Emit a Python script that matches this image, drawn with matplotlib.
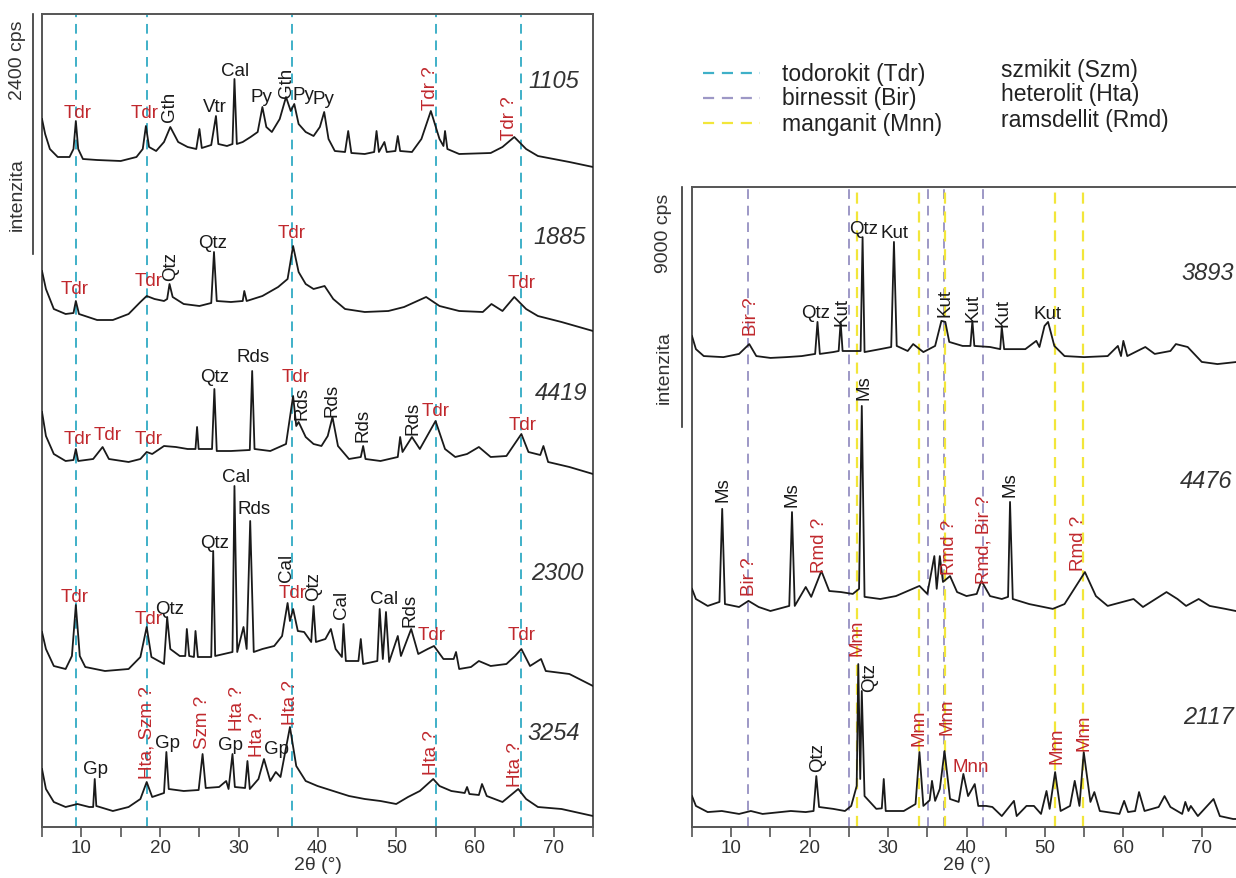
import matplotlib
matplotlib.use("Agg")
import matplotlib.pyplot as plt
from matplotlib.lines import Line2D
from matplotlib.ticker import MultipleLocator

plt.rcParams['font.family'] = ['Liberation Sans', 'DejaVu Sans']

# --- data (stacked intensities, cps) ---
# left panel
tt_1105 = [5.0, 5.4, 6.0, 7.0, 8.5, 9.0, 9.3, 9.6, 10.2, 12, 15, 17, 17.8, 18.2, 18.6, 19.5, 20.5, 21.3, 22.3,
           23.5, 24.6, 25.0, 25.3, 26.5, 27.1, 27.4, 28.5, 29.2, 29.45, 29.75, 30.5, 31.5, 32.4, 33.0, 33.5, 34.2,
           35.2, 36.0, 36.6, 37.05, 37.6, 38.5, 39.5, 40.3, 40.85, 41.4, 42.2, 43.5, 43.9, 44.3, 46, 47.2, 47.5,
           47.8, 48.5, 48.8, 49.9, 50.2, 50.5, 52, 53.2, 54.4, 55.5, 56.0, 56.2, 56.5, 58, 62, 63.5, 65.0, 66.5,
           68, 70, 72, 75]
i_1105 = [7080, 6930, 6780, 6700, 6700, 6780, 7060, 6780, 6680, 6670, 6660, 6700, 6780, 7010, 6800, 6760, 6850,
          7000, 6850, 6800, 6780, 6980, 6790, 6820, 7110, 6830, 6810, 6830, 7480, 6830, 6850, 6900, 6950, 7200,
          7000, 6950, 7080, 7300, 7160, 7230, 7030, 6950, 6910, 7000, 7150, 6880, 6760, 6750, 6960, 6740, 6730,
          6750, 6960, 6750, 6850, 6750, 6760, 6910, 6760, 6750, 6880, 7160, 6880, 6810, 6960, 6780, 6730, 6740,
          6800, 6900, 6780, 6710, 6680, 6650, 6600]

tt_1885 = [5.0, 5.5, 6.5, 8, 9.0, 9.3, 9.7, 12, 14, 16, 17.5, 18.3, 19.3, 20.5, 20.9, 21.2, 21.6, 23, 25, 26.5,
           26.85, 27.2, 29, 30.5, 30.7, 31, 33, 35, 36.2, 36.9, 37.6, 38.5, 39.5, 40.9, 42, 43.5, 46, 49, 51, 53.8,
           55.5, 58, 61, 62.1, 63.5, 65.0, 66.5, 68, 71, 75]
i_1885 = [5560, 5380, 5180, 5130, 5140, 5260, 5130, 5070, 5070, 5130, 5250, 5310, 5280, 5260, 5280, 5430, 5300,
          5230, 5210, 5240, 5750, 5260, 5250, 5260, 5360, 5260, 5310, 5400, 5480, 5810, 5550, 5430, 5380, 5410,
          5280, 5180, 5150, 5160, 5200, 5300, 5210, 5160, 5150, 5230, 5160, 5300, 5180, 5110, 5050, 4960]

tt_4419 = [5.0, 5.5, 6.5, 8, 9.0, 9.3, 9.6, 11.5, 12.7, 13.5, 16, 17.5, 18.3, 19, 20.5, 22, 23.5, 24.5, 24.7, 24.9,
           26.6, 26.9, 27.2, 29, 31.4, 31.7, 32.0, 34, 36, 36.9, 37.3, 37.6, 38.5, 39.5, 40.5, 41.3, 41.9, 42.6,
           44, 45.5, 45.8, 46.1, 48, 50.2, 50.5, 50.8, 52.0, 53, 55.0, 56.2, 57.5, 59, 60.5, 62, 64, 65.9, 66.8,
           68.3, 68.7, 69.3, 72, 75]
i_4419 = [4150, 3910, 3730, 3660, 3670, 3780, 3660, 3680, 3800, 3680, 3650, 3680, 3750, 3730, 3810, 3800, 3780,
          3780, 4000, 3780, 3780, 4380, 3760, 3760, 3770, 4560, 3780, 3760, 3830, 4310, 4010, 4050, 3900, 3830,
          3810, 3910, 4100, 3810, 3680, 3700, 3810, 3680, 3660, 3700, 3900, 3750, 3900, 3780, 4060, 3780, 3700,
          3730, 3800, 3700, 3710, 3930, 3750, 3720, 3810, 3650, 3600, 3530]

tt_2300 = [5.0, 5.5, 6.5, 8, 8.8, 9.3, 9.8, 10.5, 13, 16, 17.5, 18.3, 18.9, 20.5, 20.9, 21.3, 22.5, 23.2, 23.4, 23.7,
           24.3, 24.5, 24.8, 26.5, 26.75, 27.0, 29.2, 29.45, 29.8, 30.6, 31.0, 31.45, 31.9, 33, 34.5, 35.5, 36.2,
           36.5, 36.9, 37.5, 38.3, 39.2, 39.5, 39.8, 41, 41.7, 42.3, 43.1, 43.3, 43.6, 45.2, 45.5, 45.8, 47.6, 47.9,
           48.3, 48.7, 49.1, 50.2, 50.6, 51.9, 52.8, 54, 54.8, 56, 57.3, 57.6, 58, 59.5, 60.5, 62, 64, 65.1, 65.9,
           67, 68.4, 69, 72, 75]
i_2300 = [1950, 1780, 1610, 1580, 1710, 2220, 1710, 1600, 1560, 1580, 1700, 2000, 1700, 1630, 2100, 1780, 1710,
          1710, 1980, 1710, 1700, 1960, 1700, 1700, 2760, 1710, 1750, 3410, 1750, 2000, 1780, 3060, 1750, 1780,
          1810, 1910, 2240, 2060, 2180, 1960, 1950, 1850, 2210, 1850, 1880, 1980, 1780, 1700, 2030, 1660, 1660,
          1880, 1630, 1660, 2180, 1680, 2150, 1650, 1910, 1710, 1980, 1730, 1780, 1810, 1680, 1680, 1750, 1580,
          1600, 1660, 1610, 1630, 1710, 1780, 1610, 1680, 1560, 1530, 1410]

tt_3254 = [5.0, 5.5, 6.5, 8, 9.5, 11, 11.5, 11.7, 11.9, 14, 16, 17.5, 18.3, 19, 20.5, 20.8, 21.1, 23, 24.9, 25.4,
           25.8, 27.5, 28.4, 28.7, 29.2, 29.5, 30.8, 31.1, 31.4, 32.5, 33.2, 34, 34.7, 35.3, 36.5, 37.3, 38.5, 40,
           42, 44, 46, 48, 50, 51.5, 53, 54.7, 55.5, 57, 58.7, 59.0, 59.3, 60.5, 60.9, 61.5, 63.5, 65.5, 66.5, 68,
           71, 75]
i_3254 = [580, 380, 250, 200, 230, 200, 200, 480, 210, 160, 200, 280, 450, 300, 340, 750, 380, 360, 370, 730, 390,
          400, 460, 380, 730, 400, 390, 660, 380, 480, 680, 460, 550, 500, 1000, 610, 460, 410, 360, 310, 280, 260,
          230, 300, 360, 480, 410, 360, 340, 400, 330, 320, 430, 310, 250, 380, 280, 200, 180, 110]

# right panel
tt_3893 = [5.0, 5.5, 6.5, 9, 11, 12.3, 13.2, 15, 17, 19, 20.7, 21.0, 21.3, 23, 23.7, 23.95, 24.2, 25.5, 26.5, 26.75,
           27.0, 29, 30.4, 30.75, 31.1, 32.5, 33.2, 34.5, 36, 36.8, 37.3, 37.8, 39.5, 40.5, 40.75, 41.0, 43.0,
           44.3, 44.5, 44.8, 47.5, 48.9, 49.3, 49.95, 50.4, 51.2, 52.5, 55, 58, 59.3, 59.7, 60.0, 60.5, 62.8, 64,
           66, 66.7, 68.2, 70, 72, 74.5]
i_3893 = [18410, 17920, 17660, 17620, 17740, 18110, 17660, 17590, 17620, 17660, 17740, 18940, 17740, 17810, 17850,
          18940, 17850, 17850, 17850, 22120, 17810, 17920, 18000, 21940, 18040, 17850, 18110, 17810, 18040, 18980,
          18940, 18190, 18040, 18040, 18980, 18040, 18000, 17920, 18750, 17920, 17920, 18230, 18000, 18790, 18940,
          18040, 17660, 17620, 17660, 18040, 17660, 18230, 17660, 18000, 17740, 17850, 18110, 18000, 17440, 17360,
          17440]

tt_4476 = [5.0, 5.5, 7, 8.5, 8.85, 9.2, 11, 12.2, 13.5, 15, 17.4, 17.75, 18.1, 19.5, 20.2, 21.5, 22.5, 24, 25.5,
           26.3, 26.65, 27.0, 29, 31, 32.5, 34, 35, 35.9, 36.2, 36.6, 37.0, 37.9, 38.8, 40, 41.3, 41.9, 43, 44.5,
           45.3, 45.55, 45.9, 48, 51, 52.5, 55.1, 56.5, 58, 61.3, 62.5, 65.5, 66.9, 68, 69.6, 71, 73, 75]
i_4476 = [8930, 8550, 8290, 8440, 11930, 8360, 8250, 8480, 8250, 8100, 8290, 11810, 8290, 9000, 8630, 9600, 8850,
          8810, 8740, 8930, 15790, 8630, 8550, 8660, 8850, 9040, 8740, 10160, 8930, 10160, 9190, 9410, 8810, 8660,
          8740, 9230, 8660, 8550, 8630, 12190, 8550, 8360, 8180, 8360, 9560, 8660, 8290, 8550, 8250, 8810, 8550,
          8290, 8550, 8290, 8180, 8060]

tt_2117 = [5.0, 5.5, 7, 8.8, 11, 12.5, 14, 17.6, 19.5, 20.5, 20.85, 21.2, 23, 24.5, 25.3, 26.0, 26.2, 26.45, 26.65,
           27.0, 28.5, 29.2, 29.45, 29.7, 32, 33.5, 34.0, 34.5, 35.3, 35.6, 36.0, 36.6, 37.2, 37.9, 39, 39.6, 40.2,
           41.05, 41.5, 42.5, 43.3, 44.5, 46.05, 46.4, 47.65, 48.6, 49.5, 50.2, 50.6, 51.3, 52, 53.2, 53.8, 54.4,
           54.95, 55.8, 56.3, 57, 59.5, 60.1, 60.6, 61.5, 62.0, 62.7, 64.5, 65.25, 66, 67.5, 67.9, 68.3, 68.6, 69.5,
           71.5, 72.3, 74, 75]
i_2117 = [1160, 790, 560, 600, 490, 600, 490, 600, 560, 600, 1910, 750, 680, 600, 790, 1540, 6110, 1800, 5100, 1160,
          680, 700, 1800, 600, 600, 860, 2810, 790, 1000, 1730, 980, 1430, 2850, 1050, 940, 1990, 1160, 1610, 790,
          790, 750, 410, 980, 410, 790, 790, 490, 1350, 680, 2060, 600, 790, 1730, 790, 2810, 940, 1310, 600, 490,
          980, 560, 600, 1310, 600, 750, 1160, 750, 490, 940, 600, 790, 410, 1050, 410, 300, 300]

tdr_lines = [9.3, 18.4, 36.8, 55.0, 65.9]
bir_lines = [12.2, 25.0, 35.1, 37.1, 42.1]
mnn_lines = [26.1, 34.0, 37.3, 51.3, 54.9]

# (text, 2theta, y, rotation, red?)
labels_left = [
    ('Tdr', 9.5, 7150, 0, 1), ('Tdr', 18.0, 7150, 0, 1), ('Gth', 21.2, 7210, 90, 0), ('Vtr', 27.0, 7210, 0, 0),
    ('Cal', 29.5, 7560, 0, 0), ('Py', 32.9, 7300, 0, 0), ('Gth', 36.0, 7450, 90, 0), ('Py', 38.2, 7330, 0, 0),
    ('Py', 40.8, 7280, 0, 0), ('Tdr ?', 54.4, 7400, 90, 1), ('Tdr ?', 64.4, 7100, 90, 1),
    ('Tdr', 9.2, 5380, 0, 1), ('Tdr', 18.5, 5460, 0, 1), ('Qtz', 21.3, 5610, 90, 0), ('Qtz', 26.7, 5850, 0, 0),
    ('Tdr', 36.7, 5950, 0, 1), ('Tdr', 65.9, 5450, 0, 1),
    ('Tdr', 9.5, 3880, 0, 1), ('Tdr', 13.3, 3930, 0, 1), ('Tdr', 18.6, 3880, 0, 1), ('Qtz', 26.9, 4510, 0, 0),
    ('Rds', 31.8, 4710, 0, 0), ('Tdr', 37.2, 4500, 0, 1), ('Rds', 38.0, 4250, 90, 0), ('Rds', 41.9, 4280, 90, 0),
    ('Rds', 45.8, 4030, 90, 0), ('Rds', 52.1, 4100, 90, 0), ('Tdr', 55.0, 4160, 0, 1), ('Tdr', 66.0, 4030, 0, 1),
    ('Tdr', 9.2, 2310, 0, 1), ('Tdr', 18.5, 2080, 0, 1), ('Qtz', 21.2, 2190, 0, 0), ('Qtz', 26.9, 2850, 0, 0),
    ('Cal', 29.7, 3510, 0, 0), ('Rds', 31.9, 3180, 0, 0), ('Cal', 36.1, 2600, 90, 0), ('Tdr', 36.8, 2350, 0, 1),
    ('Qtz', 39.5, 2410, 90, 0), ('Cal', 43.0, 2230, 90, 0), ('Cal', 48.4, 2280, 0, 0), ('Rds', 51.8, 2180, 90, 0),
    ('Tdr', 54.5, 1920, 0, 1), ('Tdr', 65.9, 1930, 0, 1),
    ('Gp', 11.8, 580, 0, 0), ('Hta, Szm ?', 18.3, 950, 90, 1), ('Gp', 20.9, 850, 0, 0), ('Szm ?', 25.4, 1060, 90, 1),
    ('Gp', 29.0, 820, 0, 0), ('Hta ?', 29.8, 1190, 90, 1), ('Hta ?', 32.4, 930, 90, 1), ('Gp', 34.8, 780, 0, 0),
    ('Hta ?', 36.6, 1250, 90, 1), ('Hta ?', 54.5, 750, 90, 1), ('Hta ?', 65.2, 630, 90, 1),
]
labels_right = [
    ('Bir ?', 12.6, 19160, 90, 1), ('Qtz', 20.7, 19310, 0, 0), ('Kut', 24.1, 19350, 90, 0),
    ('Qtz', 26.9, 22460, 0, 0), ('Kut', 30.85, 22310, 0, 0), ('Kut', 37.3, 19690, 90, 0),
    ('Kut', 40.8, 19500, 90, 0), ('Kut', 44.6, 19310, 90, 0), ('Kut', 50.3, 19240, 0, 0),
    ('Ms', 8.9, 12680, 90, 0), ('Bir ?', 12.3, 9410, 90, 1), ('Ms', 17.8, 12490, 90, 0), ('Rmd ?', 21.3, 10610, 90, 1),
    ('Ms', 26.9, 16500, 90, 0), ('Rmd ?', 37.8, 10540, 90, 1), ('Rmd, Bir ?', 42.2, 10800, 90, 1),
    ('Ms', 45.6, 12860, 90, 0), ('Rmd ?', 54.3, 10690, 90, 1),
    ('Mnn', 26.0, 7125, 90, 1), ('Qtz', 27.7, 5660, 90, 0), ('Qtz', 21.0, 2660, 90, 0), ('Mnn', 34.0, 3750, 90, 1),
    ('Mnn', 37.5, 4160, 90, 1), ('Mnn', 40.6, 2250, 0, 1), ('Mnn', 51.5, 3080, 90, 1), ('Mnn', 54.95, 3560, 90, 1),
]
samples_left = [('1105', 70.0, 7460), ('1885', 70.7, 5900), ('4419', 71.0, 4350), ('2300', 70.5, 2550),
                ('3254', 70.0, 950)]
samples_right = [('3893', 70.8, 20810), ('4476', 70.5, 12980), ('2117', 70.8, 4160)]

# --- figure ---
W, H = 1236, 879
fig = plt.figure(figsize=(W / 100, H / 100), dpi=100)


def fx(px):
    return px / W


def fy(py):
    return 1 - py / H


RED = '#c0282d'
INK = '#1a1a1a'
FRAME = '#555555'

axL = fig.add_axes([fx(42), fy(828), fx(593) - fx(42), fy(15) - fy(828)])
axR = fig.add_axes([fx(692), fy(828), fx(1241) - fx(692), fy(188) - fy(828)])
axL.set_ylim(0, 8130)
axR.set_ylim(0, 24000)

for ax in (axL, axR):
    ax.set_xlim(5, 75)
    ax.set_yticks([])
    ax.xaxis.set_major_locator(MultipleLocator(10))
    ax.xaxis.set_minor_locator(MultipleLocator(5))
    ax.tick_params(which='both', direction='out', length=7, width=1.2, color=FRAME,
                   labelsize=13.5, labelcolor='#333', pad=2)
    for s in ax.spines.values():
        s.set_color(FRAME)
        s.set_linewidth(1.4)
    ax.set_xlabel('2θ (°)', fontsize=14, color='#333', labelpad=0)

dash = (0, (5, 3.5))
for x in tdr_lines:
    axL.axvline(x, color='#3fb0c8', lw=1.4, ls=dash, zorder=1)
for x in bir_lines:
    axR.axvline(x, color='#9d98c6', lw=1.4, ls=dash, zorder=1)
for x in mnn_lines:
    axR.axvline(x, color='#f2e63a', lw=1.6, ls=dash, zorder=1)

for tt, ii in [(tt_1105, i_1105), (tt_1885, i_1885), (tt_4419, i_4419), (tt_2300, i_2300), (tt_3254, i_3254)]:
    axL.plot(tt, ii, color=INK, lw=1.3, zorder=3)
for tt, ii in [(tt_3893, i_3893), (tt_4476, i_4476), (tt_2117, i_2117)]:
    axR.plot(tt, ii, color=INK, lw=1.3, zorder=3)

for ax, labs in ((axL, labels_left), (axR, labels_right)):
    for txt, x, y, rot, red in labs:
        ax.text(x, y, txt, rotation=rot, color=RED if red else INK, fontsize=13.5,
                ha='center', va='center', zorder=4)
for ax, samp in ((axL, samples_left), (axR, samples_right)):
    for name, x, y in samp:
        ax.text(x, y, name, style='italic', fontsize=17, color='#333', ha='center', va='center',
                clip_on=False)

# intensity scale bars
axL.plot([-0.0163, -0.0163], [8130 - 2400, 8130], transform=axL.get_yaxis_transform(),
         clip_on=False, color='#333', lw=1.2)
axR.plot([-0.0182, -0.0182], [15000, 24000], transform=axR.get_yaxis_transform(),
         clip_on=False, color='#333', lw=1.2)
fig.text(fx(17), fy(60), '2400 cps', rotation=90, fontsize=14, color='#333', ha='center', va='center')
fig.text(fx(17), fy(195), 'intenzita', rotation=90, fontsize=14, color='#333', ha='center', va='center')
fig.text(fx(664), fy(233), '9000 cps', rotation=90, fontsize=14, color='#333', ha='center', va='center')
fig.text(fx(664), fy(368), 'intenzita', rotation=90, fontsize=14, color='#333', ha='center', va='center')

# legend
leg_left = [('todorokit (Tdr)', '#3fb0c8'), ('birnessit (Bir)', '#9d98c6'), ('manganit (Mnn)', '#f2e63a')]
leg_right = ['szmikit (Szm)', 'heterolit (Hta)', 'ramsdellit (Rmd)']
for k, (txt, col) in enumerate(leg_left):
    y = 74 + 25 * k
    fig.add_artist(Line2D([fx(703), fx(760)], [fy(y), fy(y)], color=col, lw=1.6, ls=dash))
    fig.text(fx(782), fy(y), txt, fontsize=16.5, color='#222', ha='left', va='center')
for k, txt in enumerate(leg_right):
    y = 70 + 25 * k
    fig.text(fx(1001), fy(y), txt, fontsize=16.5, color='#222', ha='left', va='center')

fig.savefig('out.png', dpi=100)
